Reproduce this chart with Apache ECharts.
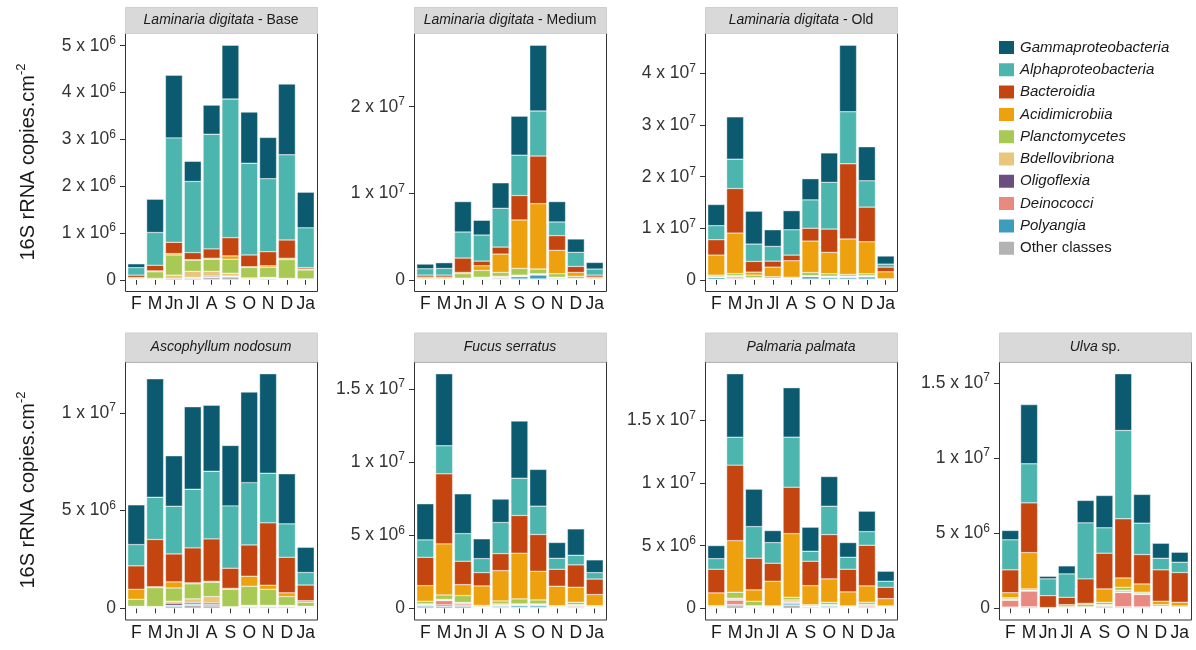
<!DOCTYPE html>
<html>
<head>
<meta charset="utf-8">
<script src="https://cdn.jsdelivr.net/npm/echarts@6/dist/echarts.min.js"></script>
<style>
    html, body { margin: 0; padding: 0; background: #fff; }
    #main { width: 1196px; height: 650px; }
</style>
</head>
<body>
<div id="main"></div>
<script>
// months on x axis
var months = ['F', 'M', 'Jn', 'Jl', 'A', 'S', 'O', 'N', 'D', 'Ja'];
// classes, legend order (top of stack first)
var classes = ['Gammaproteobacteria', 'Alphaproteobacteria', 'Bacteroidia', 'Acidimicrobiia', 'Planctomycetes',
    'Bdellovibriona', 'Oligoflexia', 'Deinococci', 'Polyangia', 'Other classes'];
var classColors = ['#0b5a6f', '#4cb5ae', '#c4450f', '#eea10e', '#a8c953',
    '#e9c67c', '#6b4e7e', '#e88a80', '#3c9dbd', '#b3b3b3'];

// values in 10^6 copies.cm-2, one row per class (same order as classes), one column per month
var ldBase = [
    [0.08, 0.71, 1.34, 0.43, 0.62, 1.15, 1.09, 0.88, 1.51, 0.76],
    [0.16, 0.70, 2.23, 1.52, 2.45, 2.96, 1.96, 1.56, 1.82, 0.85],
    [0.05, 0.12, 0.24, 0.15, 0.20, 0.39, 0.25, 0.30, 0.39, 0.03],
    [0.02, 0.02, 0.03, 0.01, 0.02, 0.07, 0.02, 0.03, 0.03, 0.02],
    [0.01, 0.14, 0.43, 0.24, 0.26, 0.30, 0.22, 0.22, 0.40, 0.19],
    [0.01, 0.02, 0.07, 0.13, 0.10, 0.06, 0.02, 0.01, 0.01, 0.01],
    [0, 0, 0, 0.01, 0.02, 0.01, 0, 0.01, 0, 0],
    [0, 0, 0, 0, 0, 0, 0, 0, 0, 0],
    [0, 0, 0, 0.01, 0.01, 0.01, 0.01, 0.01, 0.01, 0],
    [0.01, 0.01, 0.03, 0.03, 0.05, 0.06, 0.01, 0.02, 0.01, 0.01]
];
var ldMedium = [
    [0.54, 0.66, 3.51, 1.70, 2.94, 4.50, 7.60, 2.35, 1.54, 0.76],
    [0.73, 0.77, 3.01, 3.01, 4.48, 4.67, 5.20, 1.58, 1.63, 0.70],
    [0.23, 0.23, 1.66, 0.54, 0.81, 2.82, 5.50, 1.70, 0.69, 0.23],
    [0.16, 0.16, 0.15, 0.54, 2.12, 5.60, 7.56, 2.70, 0.45, 0.16],
    [0.07, 0.07, 0.51, 0.78, 0.45, 0.77, 0.54, 0.40, 0.25, 0.07],
    [0.02, 0.02, 0.08, 0.08, 0.12, 0.10, 0.05, 0.05, 0.04, 0.02],
    [0, 0, 0.01, 0.02, 0.02, 0.04, 0.05, 0.02, 0.01, 0],
    [0.01, 0.01, 0.02, 0.04, 0.10, 0.05, 0.05, 0.05, 0.02, 0.01],
    [0.02, 0.02, 0.04, 0.08, 0.10, 0.25, 0.45, 0.10, 0.04, 0.02],
    [0.03, 0.03, 0.04, 0.08, 0.06, 0.10, 0.10, 0.08, 0.04, 0.03]
];
var ldOld = [
    [4.10, 8.20, 6.37, 3.23, 3.70, 4.10, 5.70, 12.90, 6.60, 1.56],
    [2.73, 5.70, 3.37, 2.85, 4.91, 5.50, 9.06, 10.10, 5.10, 0.58],
    [2.98, 8.64, 2.07, 1.16, 1.10, 2.49, 4.53, 14.60, 6.72, 0.91],
    [3.89, 7.86, 0.59, 1.86, 3.19, 6.09, 4.14, 6.86, 6.21, 1.35],
    [0.30, 0.40, 0.50, 0.30, 0.20, 0.62, 0.47, 0.34, 0.37, 0.10],
    [0.05, 0.20, 0.10, 0.05, 0.05, 0.10, 0.10, 0.10, 0.10, 0.02],
    [0.05, 0.05, 0.03, 0.02, 0.02, 0.05, 0.05, 0.05, 0.05, 0.01],
    [0.10, 0.30, 0.07, 0.05, 0.05, 0.05, 0.10, 0.10, 0.10, 0.02],
    [0.30, 0.15, 0.10, 0.10, 0.10, 0.45, 0.30, 0.30, 0.40, 0.03],
    [0.10, 0.10, 0.10, 0.08, 0.08, 0.15, 0.15, 0.15, 0.15, 0.02]
];
var ascNodosum = [
    [2.03, 6.06, 2.58, 4.22, 3.38, 3.09, 4.63, 5.09, 2.56, 1.29],
    [1.09, 2.16, 2.44, 3.00, 3.46, 3.19, 3.19, 2.54, 1.71, 0.64],
    [1.20, 2.42, 1.43, 1.79, 2.17, 1.03, 1.60, 3.19, 1.82, 0.80],
    [0.51, 0.05, 0.31, 0.05, 0.05, 0.05, 0.51, 0.21, 0.19, 0.08],
    [0.36, 0.96, 0.68, 0.77, 0.73, 0.89, 0.98, 0.82, 0.45, 0.21],
    [0.02, 0.02, 0.10, 0.18, 0.33, 0.02, 0.03, 0.03, 0.03, 0.02],
    [0.02, 0.01, 0.11, 0.08, 0.08, 0.01, 0.02, 0.02, 0.02, 0.01],
    [0.01, 0.01, 0.01, 0.01, 0.01, 0.01, 0.01, 0.01, 0.01, 0.01],
    [0.03, 0.02, 0.05, 0.06, 0.06, 0.01, 0.04, 0.05, 0.05, 0.03],
    [0.02, 0.03, 0.09, 0.15, 0.12, 0.03, 0.05, 0.04, 0.04, 0.03]
];
var fucSerratus = [
    [2.47, 4.93, 2.72, 1.35, 1.60, 3.91, 2.51, 1.08, 1.80, 0.87],
    [1.19, 1.92, 1.89, 0.96, 2.13, 2.55, 1.94, 0.75, 0.66, 0.44],
    [1.94, 4.79, 1.60, 0.91, 1.16, 2.58, 2.52, 1.16, 1.53, 1.06],
    [1.07, 3.50, 0.75, 1.33, 2.08, 3.13, 1.96, 1.33, 1.03, 0.76],
    [0.18, 0.30, 0.47, 0.08, 0.20, 0.34, 0.27, 0.06, 0.16, 0.06],
    [0.05, 0.05, 0.05, 0.02, 0.08, 0.05, 0.05, 0.02, 0.05, 0.02],
    [0.02, 0.03, 0.05, 0.01, 0.02, 0.02, 0.02, 0.01, 0.02, 0.01],
    [0.05, 0.30, 0.10, 0.02, 0.05, 0.05, 0.05, 0.02, 0.06, 0.02],
    [0.08, 0.10, 0.08, 0.03, 0.07, 0.10, 0.10, 0.03, 0.05, 0.03],
    [0.10, 0.13, 0.12, 0.04, 0.08, 0.08, 0.08, 0.04, 0.07, 0.04]
];
var palPalmata = [
    [1.04, 5.07, 2.99, 0.96, 3.95, 1.92, 2.37, 1.17, 1.63, 0.80],
    [0.85, 2.24, 2.53, 1.65, 4.00, 0.80, 2.27, 0.96, 1.09, 0.48],
    [1.89, 6.03, 2.53, 1.44, 3.71, 1.95, 3.54, 1.81, 3.25, 0.91],
    [1.02, 4.13, 0.91, 1.97, 5.09, 1.52, 1.87, 1.12, 1.31, 0.58],
    [0.07, 0.48, 0.36, 0.05, 0.21, 0.09, 0.18, 0.05, 0.18, 0.05],
    [0.02, 0.10, 0.03, 0.02, 0.17, 0.03, 0.04, 0.02, 0.03, 0.02],
    [0.01, 0.05, 0.02, 0.01, 0.05, 0.02, 0.03, 0.01, 0.02, 0.01],
    [0.03, 0.35, 0.05, 0.03, 0.10, 0.03, 0.06, 0.03, 0.12, 0.03],
    [0.03, 0.10, 0.04, 0.03, 0.10, 0.05, 0.08, 0.03, 0.06, 0.03],
    [0.05, 0.20, 0.06, 0.05, 0.25, 0.07, 0.09, 0.05, 0.07, 0.05]
];
var ulvaSp = [
    [0.62, 3.94, 0.17, 0.53, 1.49, 2.15, 3.78, 1.91, 1.00, 0.66],
    [2.00, 2.60, 1.12, 1.56, 3.73, 1.69, 5.88, 2.09, 0.77, 0.69],
    [1.52, 3.31, 0.79, 0.49, 1.63, 2.38, 3.94, 1.96, 2.09, 1.98],
    [0.34, 2.42, 0.02, 0.10, 0.08, 0.89, 0.62, 0.55, 0.23, 0.25],
    [0.08, 0.09, 0.01, 0.08, 0.15, 0.15, 0.20, 0.10, 0.10, 0.07],
    [0.07, 0.03, 0, 0.02, 0.03, 0.05, 0.13, 0.04, 0.03, 0.02],
    [0.01, 0.02, 0, 0, 0.01, 0.03, 0.02, 0.01, 0.01, 0.01],
    [0.46, 1.05, 0.01, 0.01, 0.02, 0.05, 0.95, 0.83, 0.03, 0.02],
    [0.03, 0.05, 0, 0.01, 0.02, 0.07, 0.05, 0.04, 0.03, 0.01],
    [0.05, 0.05, 0.01, 0.02, 0.02, 0.05, 0.05, 0.05, 0.04, 0.02]
];

// y tick values (10^6 units)
var ldBaseTicks = [0, 1, 2, 3, 4, 5];
var ldMediumTicks = [0, 10, 20];
var ldOldTicks = [0, 10, 20, 30, 40];
var ascTicks = [0, 5, 10];
var fucTicks = [0, 5, 10, 15];
var palTicks = [0, 5, 10, 15];
var ulvaTicks = [0, 5, 10, 15];

var FONT = '"Liberation Sans", Arial, sans-serif';
var BOX_W = 192, BOX_H = 258;
var colLeft = [125, 414, 705, 999];
var rowTop = [33.5, 362];
var stripTop = [7.5, 333];
var stripH = [26, 29];

var panels = [
    { data: ldBase, ticks: ldBaseTicks, title: '{i|Laminaria digitata} - Base', col: 0, row: 0 },
    { data: ldMedium, ticks: ldMediumTicks, title: '{i|Laminaria digitata} - Medium', col: 1, row: 0 },
    { data: ldOld, ticks: ldOldTicks, title: '{i|Laminaria digitata} - Old', col: 2, row: 0 },
    { data: ascNodosum, ticks: ascTicks, title: '{i|Ascophyllum nodosum}', col: 0, row: 1 },
    { data: fucSerratus, ticks: fucTicks, title: '{i|Fucus serratus}', col: 1, row: 1 },
    { data: palPalmata, ticks: palTicks, title: '{i|Palmaria palmata}', col: 2, row: 1 },
    { data: ulvaSp, ticks: ulvaTicks, title: '{i|Ulva} sp.', col: 3, row: 1 }
];

// "5 x 10^6" style label
function sciLabel(v) {
    if (v === 0) return '{m|0}';
    var real = v * 1e6;
    var exp = Math.floor(Math.log10(real) + 1e-9);
    var man = Math.round(real / Math.pow(10, exp) * 10) / 10;
    return '{m|' + man + ' x 10}{e|' + exp + '}';
}

var grids = [], xAxes = [], yAxes = [], series = [], graphics = [];

panels.forEach(function (p, k) {
    var L = colLeft[p.col], T = rowTop[p.row];
    var band = BOX_W / 10.2; // ggplot discrete expansion 0.6 each side
    var totals = months.map(function (m, i) {
        return p.data.reduce(function (s, row) { return s + row[i]; }, 0);
    });
    var maxTotal = Math.max.apply(null, totals);

    grids.push({
        left: L + 0.1 * band,
        top: T,
        width: 10 * band,
        height: BOX_H * 21 / 22,
        outerBoundsMode: 'none'
    });
    xAxes.push({
        gridIndex: k,
        type: 'category',
        data: months,
        offset: BOX_H / 22,
        axisLine: { show: false },
        axisTick: { show: true, alignWithLabel: true, length: 5, lineStyle: { color: '#333', width: 1 } },
        axisLabel: { interval: 0, margin: 4, fontSize: 17.5, color: '#1a1a1a', fontFamily: FONT },
        splitLine: { show: false }
    });
    yAxes.push({
        gridIndex: k,
        type: 'value',
        min: 0,
        max: maxTotal * 1.05,
        offset: 0.1 * band,
        axisLine: { show: false },
        splitLine: { show: false },
        axisTick: { show: true, length: 5, customValues: p.ticks, lineStyle: { color: '#333', width: 1 } },
        axisLabel: {
            customValues: p.ticks,
            margin: 9,
            formatter: sciLabel,
            rich: {
                m: { fontSize: 17.5, color: '#333', fontFamily: FONT, lineHeight: 22 },
                e: { fontSize: 12, color: '#333', fontFamily: FONT, verticalAlign: 'top', lineHeight: 22 }
            }
        }
    });

    // bottom of stack first
    for (var c = classes.length - 1; c >= 0; c--) {
        series.push({
            type: 'bar',
            name: classes[c],
            xAxisIndex: k,
            yAxisIndex: k,
            stack: 'p' + k,
            barWidth: '90%',
            data: p.data[c].map(function (v) { return v === 0 ? '-' : v; }),
            itemStyle: { color: classColors[c], borderColor: '#fff', borderWidth: 0.4 },
            emphasis: { disabled: true }
        });
    }

    // panel border and strip
    graphics.push({
        type: 'rect',
        shape: { x: L + 0.5, y: T, width: BOX_W, height: BOX_H },
        style: { fill: null, stroke: '#333', lineWidth: 1 },
        silent: true
    });
    graphics.push({
        type: 'rect',
        shape: { x: L + 0.5, y: stripTop[p.row], width: BOX_W, height: stripH[p.row] },
        style: { fill: '#d9d9d9', stroke: '#cfcfcf', lineWidth: 1 },
        silent: true
    });
    graphics.push({
        type: 'text',
        x: L + BOX_W / 2,
        y: stripTop[p.row] + stripH[p.row] / 2,
        style: {
            text: p.title,
            fill: '#1a1a1a',
            fontSize: 14,
            fontFamily: FONT,
            align: 'center',
            verticalAlign: 'middle',
            rich: { i: { fontStyle: 'italic', fontSize: 14, fontFamily: FONT, fill: '#1a1a1a' } }
        },
        silent: true
    });
});

// y titles
[162, 490].forEach(function (cy) {
    graphics.push({
        type: 'text',
        x: 28,
        y: cy,
        rotation: Math.PI / 2,
        style: {
            text: '{a|16S rRNA copies.cm}{b|-2}',
            align: 'center',
            verticalAlign: 'middle',
            rich: {
                a: { fontSize: 20, fontFamily: FONT, fill: '#1a1a1a', lineHeight: 26 },
                b: { fontSize: 13, fontFamily: FONT, fill: '#1a1a1a', lineHeight: 26, verticalAlign: 'top' }
            }
        },
        silent: true
    });
});

var myChart = echarts.init(document.getElementById('main'), null, { renderer: 'canvas' });
var option = {
    animation: false,
    backgroundColor: '#fff',
    textStyle: { fontFamily: FONT },
    legend: {
        left: 992,
        top: 34,
        orient: 'vertical',
        icon: 'rect',
        itemWidth: 17,
        itemHeight: 15,
        itemGap: 5.3,
        textStyle: { fontSize: 15, color: '#1a1a1a', fontFamily: FONT },
        data: classes.map(function (c, i) {
            return { name: c, textStyle: { fontStyle: i < 9 ? 'italic' : 'normal' } };
        })
    },
    grid: grids,
    xAxis: xAxes,
    yAxis: yAxes,
    series: series,
    graphic: graphics
};
myChart.setOption(option);
</script>
</body>
</html>
